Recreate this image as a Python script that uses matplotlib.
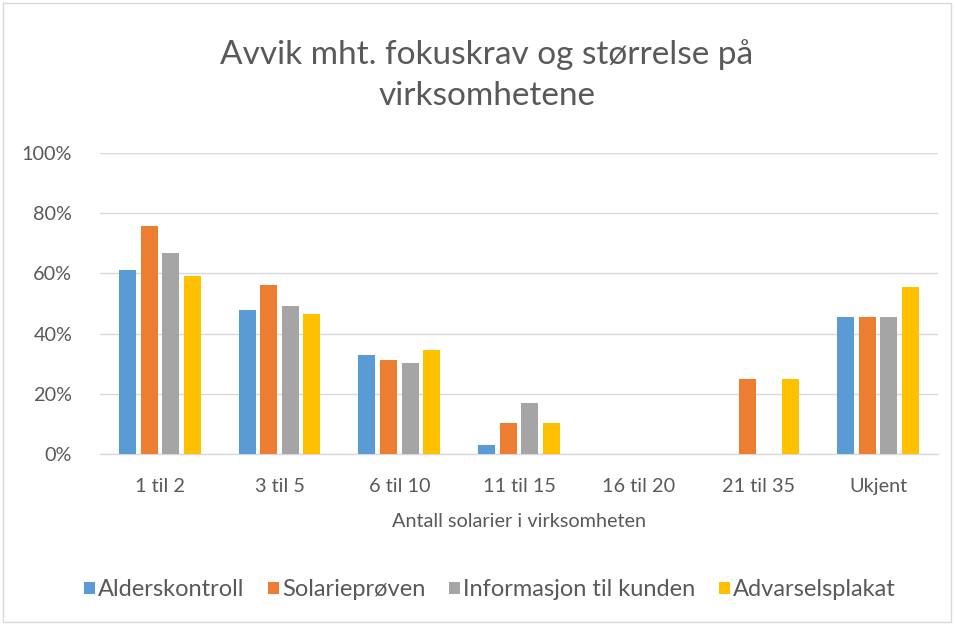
import matplotlib
matplotlib.use("Agg")
import matplotlib.pyplot as plt
import matplotlib.patches as mpatches
import numpy as np

categories = ["1 til 2", "3 til 5", "6 til 10", "11 til 15", "16 til 20", "21 til 35", "Ukjent"]
series_names = ["Alderskontroll", "Solarieprøven", "Informasjon til kunden", "Advarselsplakat"]
alderskontroll = [61.2, 47.8, 32.9, 3.1, 0, 0, 45.6]
solarieproven = [75.6, 56.0, 31.2, 10.2, 0, 25.0, 45.6]
informasjon = [66.8, 49.2, 30.2, 17.0, 0, 0, 45.6]
advarselsplakat = [59.2, 46.6, 34.6, 10.2, 0, 25.0, 55.6]
yticks = [0, 20, 40, 60, 80, 100]

values = [alderskontroll, solarieproven, informasjon, advarselsplakat]
colours = ["#5b9bd5", "#ed7d31", "#a5a5a5", "#ffc000"]
txt = "#595959"

plt.rcParams["font.family"] = ["Lato", "DejaVu Sans"]

fig = plt.figure(figsize=(9.55, 6.24), dpi=100)
ax = fig.add_axes([100 / 955, 1 - 454 / 624, 838 / 955, 301 / 624])

# chart border
fig.patches.append(mpatches.Rectangle((3 / 955, 2 / 624), 948 / 955, 619 / 624,
                                      transform=fig.transFigure, fill=False,
                                      edgecolor="#d9d9d9", linewidth=1))

x = np.arange(len(categories))
w = 0.142
step = 0.18
for i, (vals, c, name) in enumerate(zip(values, colours, series_names)):
    ax.bar(x + (i - 1.5) * step, vals, width=w, color=c, label=name, zorder=3)

ax.set_xlim(-0.5, len(categories) - 0.5)
ax.set_ylim(0, 100)
ax.set_yticks(yticks)
ax.set_yticklabels([f"{t}%" for t in yticks], fontsize=14.3, color=txt)
ax.set_xticks(x)
ax.set_xticklabels(categories, fontsize=14.3, color=txt)
ax.tick_params(axis="x", length=0, pad=17)
ax.tick_params(axis="y", length=0, pad=20)
ax.grid(axis="y", color="#d9d9d9", linewidth=1, zorder=0)
for s in ["top", "right", "left"]:
    ax.spines[s].set_visible(False)
ax.spines["bottom"].set_color("#d9d9d9")
ax.spines["bottom"].set_linewidth(1)

ax.set_xlabel("Antall solarier i virksomheten", fontsize=14.3, color=txt, labelpad=13)

fig.text(487 / 955, 1 - 75 / 624, "Avvik mht. fokuskrav og størrelse på\nvirksomhetene",
         ha="center", va="center", fontsize=24, color=txt, linespacing=1.45)

fig.legend(loc="center", bbox_to_anchor=(490 / 955, 1 - 590 / 624), ncol=4,
           frameon=False, fontsize=17, labelcolor=txt, handlelength=0.45,
           handleheight=0.45, handletextpad=0.15, columnspacing=1.0)

fig.savefig("out.png", dpi=100, facecolor="white")
